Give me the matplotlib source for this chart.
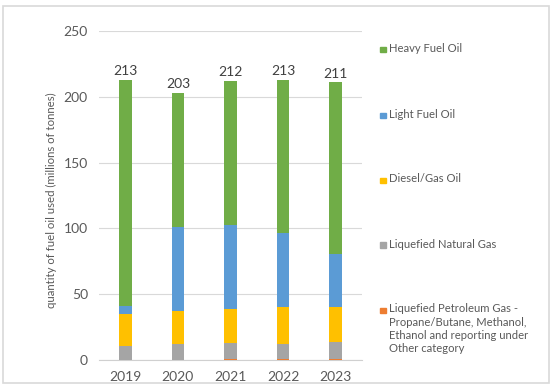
import matplotlib
matplotlib.use("Agg")
import matplotlib.pyplot as plt
from matplotlib.patches import Rectangle
import numpy as np

years = ["2019", "2020", "2021", "2022", "2023"]
lpg = [0.3, 0.3, 0.4, 0.5, 1.0]
lng = [10.5, 11.7, 12.2, 11.4, 12.6]
diesel = [23.8, 25.6, 26.3, 28.0, 26.8]
lfo = [6.5, 63.4, 63.9, 56.8, 39.9]
hfo = [171.9, 102.0, 109.2, 116.3, 130.7]
totals = [213, 203, 212, 213, 211]

series_names = [
    "Heavy Fuel Oil",
    "Light Fuel Oil",
    "Diesel/Gas Oil",
    "Liquefied Natural Gas",
    "Liquefied Petroleum Gas -\nPropane/Butane, Methanol,\nEthanol and reporting under\nOther category",
]
colors = {"hfo": "#70ad47", "lfo": "#5b9bd5", "diesel": "#ffc000", "lng": "#a5a5a5", "lpg": "#ed7d31"}

plt.rcParams["font.family"] = ["Lato", "DejaVu Sans"]
txt = "#595959"

W, H = 553, 390
fig = plt.figure(figsize=(W / 100, H / 100), dpi=100)
ax = fig.add_axes([99 / W, 1 - 360 / H, (362 - 99) / W, (360 - 31) / H])

x = np.arange(len(years))
width = 0.24
bottom = np.zeros(len(years))
stack = [(lpg, "lpg"), (lng, "lng"), (diesel, "diesel"), (lfo, "lfo"), (hfo, "hfo")]
for vals, key in stack:
    ax.bar(x, vals, width, bottom=bottom, color=colors[key], zorder=3)
    bottom = bottom + np.array(vals)

for xi, t, top in zip(x, totals, bottom):
    ax.text(xi, top + 2, str(t), ha="center", va="bottom", fontsize=10, color="#404040")

ax.set_xlim(-0.5, len(years) - 0.5)
ax.set_ylim(0, 250)
ax.set_yticks([0, 50, 100, 150, 200, 250])
ax.set_xticks(x)
ax.set_xticklabels(years)
ax.tick_params(axis="both", length=0, colors=txt, labelsize=10)
ax.tick_params(axis="y", pad=8)
ax.tick_params(axis="x", pad=8)
ax.grid(axis="y", color="#d9d9d9", linewidth=0.8, zorder=0)
for s in ["top", "right", "left"]:
    ax.spines[s].set_visible(False)
ax.spines["bottom"].set_color("#d0d0d0")
ax.set_ylabel("quantity of fuel oil used (millions of tonnes)", fontsize=8.2, color=txt, labelpad=9)
ax.yaxis.set_label_coords(-0.16, 0.485)

# legend
leg_keys = ["hfo", "lfo", "diesel", "lng", "lpg"]
leg_y = [49, 115, 180, 245, 310]
for key, name, yy in zip(leg_keys, series_names, leg_y):
    fig.patches.append(Rectangle((380 / W, 1 - (yy + 3) / H), 5.5 / W, 5.5 / H,
                                 transform=fig.transFigure, color=colors[key]))
    fig.text(389 / W, 1 - (yy - 6.5) / H, name, ha="left", va="top", fontsize=8.1,
             color=txt, linespacing=1.25)

# frame
fig.patches.append(Rectangle((3 / W, 1 - 383 / H), 546 / W, 377 / H, transform=fig.transFigure,
                             fill=False, edgecolor="#d9d9d9", linewidth=1.2))

fig.savefig("out.png", dpi=100)
